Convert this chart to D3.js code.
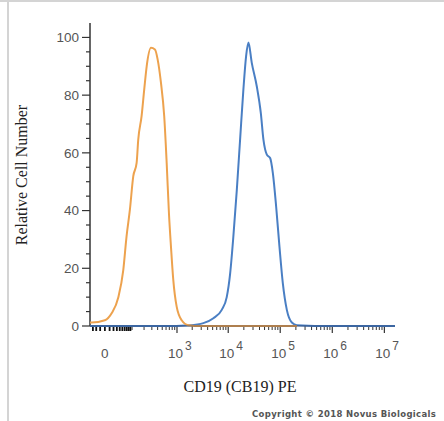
<!DOCTYPE html>
<html>
<head>
<meta charset="utf-8">
<script src="https://cdn.jsdelivr.net/npm/d3@7"></script>
<style>
  html, body { margin: 0; padding: 0; background: #fff; }
  svg { display: block; }
</style>
</head>
<body>
<svg id="chart" width="444" height="421"></svg>
<script>
// fluorescence channel values (PE) and cell counts
const isotypeX = [-40, -34, 0, 15, 35, 54, 69, 87, 108, 132, 145, 175, 202, 230, 287, 350, 400, 470, 550, 618, 688, 756, 842, 985, 1240, 1680, 3000, 20000, 209000];
const isotypeY = [1.2, 1.2, 2, 4.4, 10, 19.4, 31, 40.3, 51.9, 56.5, 64.6, 72.7, 82, 90, 96.4, 95.8, 92.4, 84.3, 72.7, 56.5, 39, 27.5, 16, 6.7, 2, 0.3, 0, 0, 0];

const cd19X = [-40, 500, 1810, 3300, 5170, 7500, 9360, 10860, 12560, 14620, 16930, 19600, 22100, 24500, 28400, 35500, 42400, 47600, 55300, 64000, 72200, 83500, 96700, 112300, 134000, 167300, 209000, 1e6, 1.6e7];
const cd19Y = [0, 0, 0.3, 1, 2.7, 5.6, 10, 18, 31, 47, 64.6, 82, 93.5, 98.2, 91.2, 83, 73.8, 64.6, 59.4, 58.2, 53, 41.4, 27.5, 14.8, 5.6, 1.2, 0.3, 0, 0];

const yMajor = [0, 20, 40, 60, 80, 100];
const decades = [3, 4, 5, 6, 7];

const svg = d3.select('#chart');

// frame of the original screenshot
svg.append('rect').attr('x', 0).attr('y', 0).attr('width', 444).attr('height', 2).attr('fill', '#d4d4d4');
svg.append('rect').attr('x', 7).attr('y', 0).attr('width', 2).attr('height', 421).attr('fill', '#d4d4d4');

const x = d3.scaleSymlog().constant(43).domain([-40, 1.6e7]).range([90, 395]);
const y = d3.scaleLinear().domain([0, 105]).range([326, 23]);

const line = d3.line()
    .x(d => x(d[0]))
    .y(d => y(d[1]))
    .curve(d3.curveMonotoneX);

// y axis
const yAxis = svg.append('g').attr('transform', 'translate(90,0)');
yAxis.append('line').attr('y1', y(105)).attr('y2', y(0)).attr('stroke', '#333').attr('stroke-width', 1.5);
yAxis.selectAll('.minor').data(d3.range(5, 105, 5).filter(v => v % 20)).enter()
    .append('line').classed('minor', true)
    .attr('x1', -4).attr('x2', 0)
    .attr('y1', d => y(d)).attr('y2', d => y(d))
    .attr('stroke', '#333').attr('stroke-width', 1.2);
yAxis.selectAll('.major').data(yMajor).enter()
    .append('line').classed('major', true)
    .attr('x1', -8).attr('x2', 0)
    .attr('y1', d => y(d)).attr('y2', d => y(d))
    .attr('stroke', '#333').attr('stroke-width', 1.2);
yAxis.selectAll('.lbl').data(yMajor).enter()
    .append('text').classed('lbl', true)
    .attr('x', -11).attr('y', d => y(d)).attr('dy', '0.35em')
    .attr('text-anchor', 'end')
    .attr('font-family', 'Liberation Sans, Arial, sans-serif')
    .attr('font-size', 13.5).attr('fill', '#555')
    .text(d => d);

// x axis ticks: linear region near zero, then decades
const linTicks = d3.range(-30, 100, 10);
const logMinor = [];
[2, 3, 4, 5, 6].forEach(e => d3.range(1, 10).forEach(m => {
    const v = m * Math.pow(10, e);
    if (!(m === 1 && e >= 3)) logMinor.push(v);
}));
const xAxis = svg.append('g');
xAxis.selectAll('.lin').data(linTicks).enter()
    .append('line').classed('lin', true)
    .attr('x1', d => x(d)).attr('x2', d => x(d))
    .attr('y1', 326).attr('y2', 331)
    .attr('stroke', '#111').attr('stroke-width', 1.8);
xAxis.selectAll('.minor').data(logMinor).enter()
    .append('line').classed('minor', true)
    .attr('x1', d => x(d)).attr('x2', d => x(d))
    .attr('y1', 326).attr('y2', 330)
    .attr('stroke', '#333').attr('stroke-width', 1);
xAxis.selectAll('.major').data(decades).enter()
    .append('line').classed('major', true)
    .attr('x1', d => x(Math.pow(10, d))).attr('x2', d => x(Math.pow(10, d)))
    .attr('y1', 326).attr('y2', 333)
    .attr('stroke', '#333').attr('stroke-width', 1.2);

const lblFont = 'Liberation Sans, Arial, sans-serif';
xAxis.append('text')
    .attr('x', x(0)).attr('y', 358)
    .attr('text-anchor', 'middle')
    .attr('font-family', lblFont).attr('font-size', 13.5).attr('fill', '#555')
    .text('0');
const dl = xAxis.selectAll('.dec').data(decades).enter()
    .append('g').classed('dec', true)
    .attr('transform', d => `translate(${x(Math.pow(10, d))},0)`);
dl.append('text')
    .attr('x', 6).attr('y', 358)
    .attr('text-anchor', 'end')
    .attr('font-family', lblFont).attr('font-size', 13.5).attr('fill', '#555')
    .text('10');
dl.append('text')
    .attr('x', 8).attr('y', 350)
    .attr('font-family', lblFont).attr('font-size', 12).attr('fill', '#555')
    .text(d => d);

// histograms
const isoData = isotypeX.map((v, i) => [v, isotypeY[i]]);
const cdData = cd19X.map((v, i) => [v, cd19Y[i]]);

svg.append('path').datum(cdData)
    .attr('d', line)
    .attr('fill', 'none').attr('stroke', '#4a7fc4').attr('stroke-width', 2)
    .attr('stroke-linejoin', 'round');
svg.append('path').datum(isoData)
    .attr('d', line)
    .attr('fill', 'none').attr('stroke', '#eda24e').attr('stroke-width', 2)
    .attr('stroke-linejoin', 'round');

// x axis line
svg.append('line')
    .attr('x1', 90).attr('x2', 395).attr('y1', 326).attr('y2', 326)
    .attr('stroke', '#1f2f52').attr('stroke-width', 1.2).attr('opacity', 0.6);

// titles
svg.append('text')
    .attr('transform', 'translate(27,175) rotate(-90)')
    .attr('text-anchor', 'middle')
    .attr('font-family', 'Liberation Serif, Times New Roman, serif')
    .attr('font-size', 16).attr('fill', '#222')
    .text('Relative Cell Number');
svg.append('text')
    .attr('x', 240).attr('y', 392)
    .attr('text-anchor', 'middle')
    .attr('font-family', 'Liberation Serif, Times New Roman, serif')
    .attr('font-size', 16).attr('fill', '#222')
    .text('CD19 (CB19) PE');

svg.append('text')
    .attr('x', 252).attr('y', 417)
    .attr('font-family', 'DejaVu Sans, sans-serif')
    .attr('font-size', 8.5).attr('font-weight', 'bold')
    .attr('letter-spacing', 0.35).attr('fill', '#555')
    .text('Copyright © 2018 Novus Biologicals');
</script>
</body>
</html>
